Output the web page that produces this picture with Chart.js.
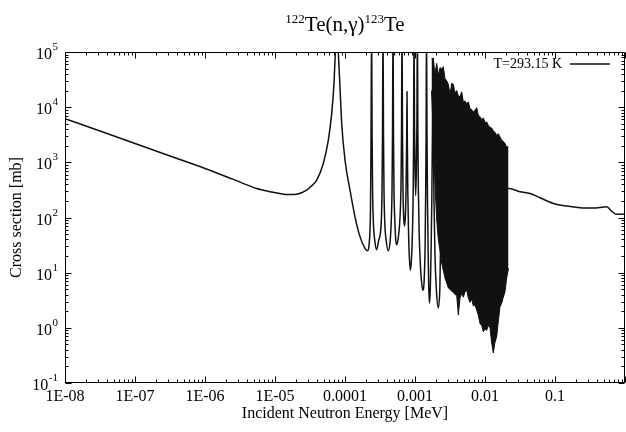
<!DOCTYPE html>
<html>
<head>
<meta charset="utf-8">
<script src="https://cdn.jsdelivr.net/npm/chart.js@4.4.1/dist/chart.umd.min.js"></script>
<style>
  html, body { margin: 0; padding: 0; background: #fff; }
  canvas { display: block; }
</style>
</head>
<body>
<canvas id="xs" width="626" height="432"></canvas>
<script>
const FONT = '"Liberation Serif", "Times New Roman", Times, serif';

// Capture cross section at 293.15 K: energy [MeV] and sigma [mb]
// (1/v region, isolated resonances, then the smooth fast-neutron part)
const energyMeV = [
  1.00e-8, 3.162e-8, 1.0e-7, 3.162e-7, 1.0e-6, 2.54e-6, 5.476e-6, 8.48e-6,
  1.314e-5, 1.638e-5, 2.042e-5, 2.837e-5, 3.344e-5, 3.942e-5, 4.898e-5, 5.774e-5,
  6.457e-5, 6.963e-5, 7.27e-5, 7.61e-5, 8.02e-5, 8.48e-5, 8.97e-5, 1.0e-4,
  1.179e-4, 1.389e-4, 1.638e-4, 1.931e-4, 2.083e-4, 2.239e-4, 2.314e-4, 2.352e-4, 2.399e-4,
  2.439e-4, 2.479e-4, 2.545e-4, 2.665e-4, 2.837e-4, 3.020e-4, 3.290e-4, 3.378e-4, 3.434e-4, 3.490e-4,
  3.548e-4, 3.607e-4, 3.703e-4, 3.877e-4, 4.155e-4, 4.422e-4, 4.571e-4, 4.693e-4, 4.771e-4, 4.850e-4,
  4.930e-4, 5.012e-4, 5.146e-4, 5.300e-4, 5.514e-4, 5.793e-4, 6.105e-4, 6.310e-4, 6.414e-4, 6.521e-4,
  6.629e-4, 6.739e-4, 6.896e-4, 7.079e-4, 7.292e-4, 7.487e-4, 7.611e-4, 7.687e-4,
  7.763e-4, 7.891e-4, 8.075e-4, 8.290e-4, 8.568e-4, 8.913e-4, 9.211e-4, 9.425e-4, 9.550e-4, 9.677e-4,
  9.837e-4, 1.000e-3, 1.023e-3, 1.047e-3, 1.065e-3, 1.082e-3,
  1.100e-3, 1.118e-3, 1.144e-3, 1.190e-3, 1.238e-3, 1.293e-3, 1.349e-3, 1.394e-3, 1.422e-3, 1.441e-3, 1.460e-3,
  1.484e-3, 1.509e-3, 1.544e-3, 1.575e-3, 1.611e-3, 1.654e-3, 1.693e-3, 1.738e-3, 1.773e-3, 1.808e-3,
  1.832e-3, 1.868e-3, 1.931e-3, 2.028e-3, 2.152e-3, 2.262e-3, 2.337e-3,
  0.0222, 0.0316, 0.0439, 0.0611, 0.0947, 0.147, 0.228, 0.352, 0.548, 0.645, 0.76, 0.897, 1.0
];
const sigmaMb = [
  6200, 3700, 2190, 1300, 773, 490, 336, 294,
  265, 262, 265, 313, 375, 476, 955, 2500,
  7700, 27000, 95000, 600000, 100000, 23300, 5070, 1100,
  313, 103, 45, 27.5, 25, 40, 150, 2000, 300000,
  3000, 300, 80, 38, 26, 38, 80, 300, 3000, 300000,
  3000, 300, 80, 38, 25, 38, 80, 300, 3000, 300000,
  3000, 300, 90, 40, 32, 45, 100, 400, 3000, 300000,
  3000, 300, 100, 70, 110, 500, 3000, 19000,
  3000, 300, 60, 20, 11, 18, 60, 300, 3000, 300000,
  5000, 800, 250, 800, 5000, 300000,
  3000, 300, 60, 15, 7, 4.8, 7, 30, 300, 3000, 300000,
  3000, 200, 20, 5, 2.8, 5, 20, 200, 3000, 76000,
  3000, 200, 20, 4.5, 2.3, 5, 40,
  336, 292, 273, 228, 180, 161, 150, 148, 156, 130, 114, 114, 118
];

// Unresolved forest of resonances, drawn as the band between its peaks and troughs
const denseEnergy = [
  1.721e-3, 1.826e-3, 1.931e-3, 2.042e-3, 2.152e-3, 2.276e-3, 2.407e-3, 2.537e-3,
  2.683e-3, 2.837e-3, 2.990e-3, 3.162e-3, 3.344e-3, 3.526e-3, 3.728e-3, 3.942e-3,
  4.155e-3, 4.394e-3, 4.647e-3, 4.898e-3, 5.179e-3, 5.477e-3, 5.774e-3, 6.105e-3,
  6.457e-3, 6.806e-3, 7.197e-3, 7.611e-3, 8.022e-3, 8.483e-3, 8.971e-3, 9.456e-3,
  1.000e-2, 1.0575e-2, 1.1146e-2, 1.1788e-2, 1.2466e-2, 1.3139e-2, 1.3895e-2, 1.4694e-2,
  1.5488e-2, 1.6379e-2, 1.7321e-2, 1.8257e-2, 1.9307e-2, 2.0417e-2, 2.1660e-2
];
const densePeaks = [
  76000, 76000, 40000, 62000, 38000, 52000, 49000, 54000,
  33000, 30000, 26000, 17000, 27000, 26000, 18000, 20000,
  16000, 15600, 19000, 12500, 13000, 11500, 12500, 9500,
  9000, 8200, 8800, 9800, 7200, 6700, 5900, 6400,
  5300, 5400, 4700, 4300, 4200, 3700, 3500, 3100,
  3300, 2900, 2500, 2400, 2200, 1900, 1900
];
const denseTroughs = [
  20000, 3000, 400, 90, 40, 25, 15, 11,
  8, 6.5, 5.3, 5.0, 4.6, 4.4, 4.0, 3.9,
  1.7, 3.5, 4.2, 3.6, 4.5, 4.8, 3.5, 2.9,
  3.3, 2.5, 2.6, 2.1, 1.7, 1.2, 1.1, 0.85,
  0.95, 0.9, 1.1, 1.0, 0.53, 0.35, 0.55, 0.69,
  1.3, 2.4, 2.8, 3.6, 4.5, 8, 12
];

// Axis labelling
const xTickValues = [1e-8, 1e-7, 1e-6, 1e-5, 1e-4, 1e-3, 1e-2, 1e-1];
const xTickLabels = ['1E-08', '1E-07', '1E-06', '1E-05', '0.0001', '0.001', '0.01', '0.1'];
const yTickExponents = [-1, 0, 1, 2, 3, 4, 5];
const seriesLabel = 'T=293.15 K';

const toPoints = (xs, ys) => xs.map((x, i) => ({ x, y: ys[i] }));
const INK = '#111';

const gnuplotDecor = {
  id: 'gnuplotDecor',
  afterDraw(chart) {
    const { ctx, chartArea: a, scales: { x, y } } = chart;
    ctx.save();
    ctx.strokeStyle = '#000';
    ctx.fillStyle = '#000';
    ctx.lineWidth = 1;

    const seg = (x1, y1, x2, y2) => { ctx.beginPath(); ctx.moveTo(x1, y1); ctx.lineTo(x2, y2); ctx.stroke(); };

    // frame
    const L = Math.round(a.left) + 0.5, R = Math.round(a.right) - 0.5;
    const T = Math.round(a.top) + 0.5, B = Math.round(a.bottom) - 0.5;
    ctx.strokeRect(L, T, R - L, B - T);

    // inward ticks on all four sides (log decades with 2..9 minors)
    for (let d = -8; d <= 0; d++) {
      for (let m = 1; m <= 9; m++) {
        const v = m * Math.pow(10, d);
        if (v < x.min * 0.999 || v > x.max * 1.001) continue;
        const px = Math.round(x.getPixelForValue(v)) + 0.5;
        const len = m === 1 ? 6 : 3;
        seg(px, B, px, B - len);
        seg(px, T, px, T + len);
      }
    }
    for (let d = -1; d <= 5; d++) {
      for (let m = 1; m <= 9; m++) {
        const v = m * Math.pow(10, d);
        if (v < y.min * 0.999 || v > y.max * 1.001) continue;
        const py = Math.round(y.getPixelForValue(v)) + 0.5;
        const len = m === 1 ? 6 : 3;
        seg(L, py, L + len, py);
        seg(R, py, R - len, py);
      }
    }

    // x tick labels
    ctx.font = `16px ${FONT}`;
    ctx.textAlign = 'center';
    ctx.textBaseline = 'middle';
    xTickValues.forEach((v, i) => {
      ctx.fillText(xTickLabels[i], x.getPixelForValue(v), a.bottom + 14);
    });

    // y tick labels: 10 with raised exponent
    yTickExponents.forEach(e => {
      const py = y.getPixelForValue(Math.pow(10, e));
      const expText = String(e);
      ctx.font = `11px ${FONT}`;
      const ew = ctx.measureText(expText).width;
      const right = a.left - 7;
      ctx.textAlign = 'left';
      ctx.textBaseline = 'alphabetic';
      ctx.fillText(expText, right - ew, py - 2);
      ctx.font = `16px ${FONT}`;
      ctx.textAlign = 'right';
      ctx.fillText('10', right - ew - 0.5, py + 7);
    });

    // axis titles
    ctx.font = `16px ${FONT}`;
    ctx.textAlign = 'center';
    ctx.textBaseline = 'middle';
    ctx.fillText('Incident Neutron Energy [MeV]', (a.left + a.right) / 2, 414);
    ctx.save();
    ctx.translate(17, (a.top + a.bottom) / 2);
    ctx.rotate(-Math.PI / 2);
    ctx.fillText('Cross section [mb]', 0, 0);
    ctx.restore();

    // title with mass-number superscripts
    const parts = [
      { t: '122', sup: true }, { t: 'Te(n,γ)', sup: false },
      { t: '123', sup: true }, { t: 'Te', sup: false }
    ];
    const fontFor = p => p.sup ? `13px ${FONT}` : `21px ${FONT}`;
    let total = 0;
    parts.forEach(p => { ctx.font = fontFor(p); p.w = ctx.measureText(p.t).width; total += p.w; });
    let cx = (a.left + a.right) / 2 - total / 2;
    ctx.textAlign = 'left';
    ctx.textBaseline = 'alphabetic';
    parts.forEach(p => {
      ctx.font = fontFor(p);
      ctx.fillText(p.t, cx, p.sup ? 23 : 31);
      cx += p.w;
    });

    // key
    ctx.font = `14px ${FONT}`;
    ctx.textAlign = 'right';
    ctx.textBaseline = 'middle';
    ctx.fillText(seriesLabel, 562, 64);
    ctx.strokeStyle = INK;
    ctx.lineWidth = 1.5;
    seg(570, 64, 610, 64);

    ctx.restore();
  }
};

new Chart(document.getElementById('xs'), {
  type: 'line',
  data: {
    datasets: [
      {
        label: seriesLabel,
        data: toPoints(energyMeV, sigmaMb),
        borderColor: INK,
        borderWidth: 1.5,
        pointRadius: 0,
        cubicInterpolationMode: 'monotone',
        fill: false
      },
      {
        label: 'peaks',
        data: toPoints(denseEnergy, densePeaks),
        borderColor: INK,
        borderWidth: 1,
        pointRadius: 0,
        fill: false
      },
      {
        label: 'troughs',
        data: toPoints(denseEnergy, denseTroughs),
        borderColor: INK,
        borderWidth: 1,
        pointRadius: 0,
        backgroundColor: INK,
        fill: '-1'
      }
    ]
  },
  options: {
    responsive: false,
    animation: false,
    events: [],
    layout: { padding: { left: 65, top: 52, right: 1, bottom: 49 } },
    elements: { line: { tension: 0 }, point: { radius: 0 } },
    plugins: { legend: { display: false }, tooltip: { enabled: false }, title: { display: false } },
    scales: {
      x: { type: 'logarithmic', display: false, min: 1e-8, max: 1 },
      y: { type: 'logarithmic', display: false, min: 0.1, max: 1e5 }
    }
  },
  plugins: [gnuplotDecor]
});
</script>
</body>
</html>
